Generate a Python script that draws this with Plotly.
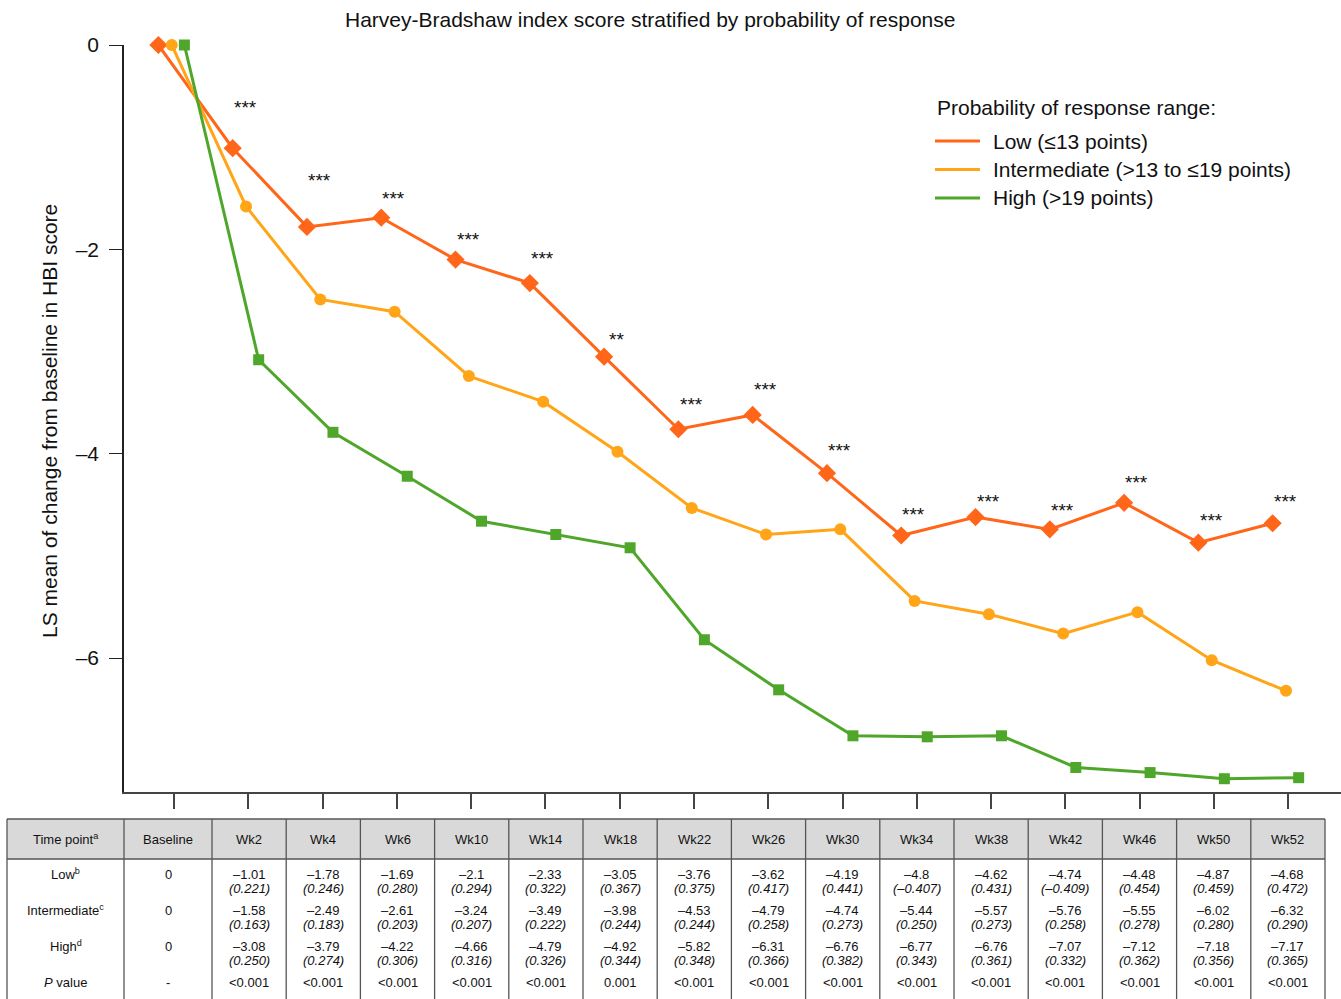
import plotly.graph_objects as go

# --- data ---
time_points = ["Baseline", "Wk2", "Wk4", "Wk6", "Wk10", "Wk14", "Wk18", "Wk22",
               "Wk26", "Wk30", "Wk34", "Wk38", "Wk42", "Wk46", "Wk50", "Wk52"]

low_mean = [0, -1.01, -1.78, -1.69, -2.1, -2.33, -3.05, -3.76, -3.62, -4.19,
            -4.8, -4.62, -4.74, -4.48, -4.87, -4.68]
low_se = [None, 0.221, 0.246, 0.280, 0.294, 0.322, 0.367, 0.375, 0.417, 0.441,
          -0.407, 0.431, -0.409, 0.454, 0.459, 0.472]

int_mean = [0, -1.58, -2.49, -2.61, -3.24, -3.49, -3.98, -4.53, -4.79, -4.74,
            -5.44, -5.57, -5.76, -5.55, -6.02, -6.32]
int_se = [None, 0.163, 0.183, 0.203, 0.207, 0.222, 0.244, 0.244, 0.258, 0.273,
          0.250, 0.273, 0.258, 0.278, 0.280, 0.290]

high_mean = [0, -3.08, -3.79, -4.22, -4.66, -4.79, -4.92, -5.82, -6.31, -6.76,
             -6.77, -6.76, -7.07, -7.12, -7.18, -7.17]
high_se = [None, 0.250, 0.274, 0.306, 0.316, 0.326, 0.344, 0.348, 0.366, 0.382,
           0.343, 0.361, 0.332, 0.362, 0.356, 0.365]

p_values = ["-", "<0.001", "<0.001", "<0.001", "<0.001", "<0.001", "0.001", "<0.001",
            "<0.001", "<0.001", "<0.001", "<0.001", "<0.001", "<0.001", "<0.001", "<0.001"]

# significance markers for Wk2..Wk52 and the height they sit at
sig_labels = ["***", "***", "***", "***", "***", "**", "***", "***",
              "***", "***", "***", "***", "***", "***", "***"]
sig_y = [-0.56, -1.28, -1.45, -1.85, -2.04, -2.83, -3.47, -3.32,
         -3.92, -4.55, -4.42, -4.51, -4.23, -4.60, -4.42]

row_labels = ["Low<sup>b</sup>", "Intermediate<sup>c</sup>", "High<sup>d</sup>", "<i>P</i> value"]

# --- styling ---
W, H = 1341, 999
FONT = "Liberation Sans, Arial, Helvetica, sans-serif"
C_LOW = "#FF661A"
C_INT = "#FFA517"
C_HIGH = "#4EA72A"


def px(x):
    return x / W


def py(y):
    return 1 - y / H


def fmt(v):
    return str(v).replace("-", "\u2013")


fig = go.Figure()

series = [
    ("Low (\u226413 points)", low_mean, C_LOW, "diamond", 14, -0.21),
    ("Intermediate (>13 to \u226419 points)", int_mean, C_INT, "circle", 12, -0.03),
    ("High (>19 points)", high_mean, C_HIGH, "square", 11, 0.14),
]

idx = list(range(len(time_points)))
for name, vals, color, sym, size, off in series:
    fig.add_trace(go.Scatter(
        x=[i + off for i in idx], y=vals, mode="lines+markers",
        line=dict(color=color, width=3),
        marker=dict(symbol=sym, size=size, color=color),
        cliponaxis=False, showlegend=False, name=name,
    ))

BIG = dict(size=21, color="#111", family=FONT)

# legend drawn by hand (long line keys, as in the reference)
fig.add_annotation(x=px(935), y=py(107), xref="paper", yref="paper",
                   text="Probability of response range:", showarrow=False,
                   xanchor="left", yanchor="middle", font=BIG)
for k, (name, vals, color, sym, size, off) in enumerate(series):
    yy = 141 + 28.5 * k
    fig.add_shape(type="line", xref="paper", yref="paper",
                  x0=px(935), x1=px(980), y0=py(yy), y1=py(yy),
                  line=dict(color=color, width=3))
    fig.add_annotation(x=px(991), y=py(yy), xref="paper", yref="paper",
                       text=name, showarrow=False, xanchor="left", yanchor="middle",
                       font=BIG)

# significance stars
for i, (lab, yv) in enumerate(zip(sig_labels, sig_y)):
    fig.add_annotation(x=i + 1 - 0.04, y=yv, xref="x", yref="y", text=lab,
                       showarrow=False, font=dict(size=19, color="#111", family=FONT),
                       yanchor="middle", yshift=-5)

# title and y-axis title
fig.add_annotation(x=px(650), y=py(19), xref="paper", yref="paper",
                   text="Harvey-Bradshaw index score stratified by probability of response",
                   showarrow=False, xanchor="center", yanchor="middle", font=BIG)
fig.add_annotation(x=px(50), y=py(421), xref="paper", yref="paper",
                   text="LS mean of change from baseline in HBI score", textangle=-90,
                   showarrow=False, xanchor="center", yanchor="middle", font=BIG)

# --- table below the plot ---
edges = [7, 124, 212] + [212 + 74.2 * k for k in range(1, 16)]
centers = [(a + b) / 2 for a, b in zip(edges[:-1], edges[1:])]
T_TOP, T_HEAD, T_BOT = 819, 859, 999
LINE = dict(color="#555", width=1.3)

fig.add_shape(type="rect", xref="paper", yref="paper",
              x0=px(edges[0]), x1=px(edges[-1]), y0=py(T_HEAD), y1=py(T_TOP),
              fillcolor="#D9D9D9", line=dict(width=0), layer="below")
fig.add_shape(type="line", xref="paper", yref="paper",
              x0=px(edges[0]), x1=px(edges[-1]), y0=py(T_TOP), y1=py(T_TOP), line=LINE)
fig.add_shape(type="line", xref="paper", yref="paper",
              x0=px(edges[0]), x1=px(edges[-1]), y0=py(T_HEAD), y1=py(T_HEAD), line=LINE)
for e in edges:
    fig.add_shape(type="line", xref="paper", yref="paper",
                  x0=px(e), x1=px(e), y0=py(T_TOP), y1=py(T_BOT), line=LINE)

TF = dict(size=13, color="#111", family=FONT)


def cell(xc, yc, text):
    fig.add_annotation(x=px(xc), y=py(yc), xref="paper", yref="paper", text=text,
                       showarrow=False, font=TF, xanchor="center", yanchor="middle")


cell(centers[0], 839, "Time point<sup>a</sup>")
for c, tp in zip(centers[1:], time_points):
    cell(c, 839, tp)

row_y = [874, 910, 946]
for lab, yc in zip(row_labels, row_y + [982]):
    cell(centers[0], yc, lab)

for means, ses, yc in zip([low_mean, int_mean, high_mean], [low_se, int_se, high_se], row_y):
    for c, m, s in zip(centers[1:], means, ses):
        cell(c, yc, fmt(m))
        if s is not None:
            cell(c, yc + 14, "<i>(" + fmt(f"{s:.3f}") + ")</i>")

for c, p in zip(centers[1:], p_values):
    cell(c, 982, p)

fig.update_layout(
    width=W, height=H,
    margin=dict(l=0, r=0, t=0, b=0, autoexpand=False),
    paper_bgcolor="white", plot_bgcolor="white",
    font=dict(family=FONT, color="#111"),
    showlegend=False,
    xaxis=dict(
        domain=[px(124), 1], range=[-0.673, 15.71],
        tickvals=idx, showticklabels=False, ticks="outside", ticklen=15,
        tickcolor="#444", tickwidth=1.5,
        showline=True, linecolor="#444", linewidth=1.5,
        showgrid=False, zeroline=False, automargin=False,
    ),
    yaxis=dict(
        domain=[py(792), py(45)], range=[-7.31, 0],
        tickvals=[0, -2, -4, -6], ticktext=["0", "\u20132", "\u20134", "\u20136"],
        ticks="outside", ticklen=13, tickcolor="#222", tickwidth=1.3,
        tickfont=dict(size=21, color="#111"), ticklabelstandoff=6,
        showline=True, linecolor="#222", linewidth=1.5,
        showgrid=False, zeroline=False, automargin=False,
    ),
)

fig.write_html("out.html", config={"displayModeBar": False},
               post_script="document.body.style.margin='0';")
